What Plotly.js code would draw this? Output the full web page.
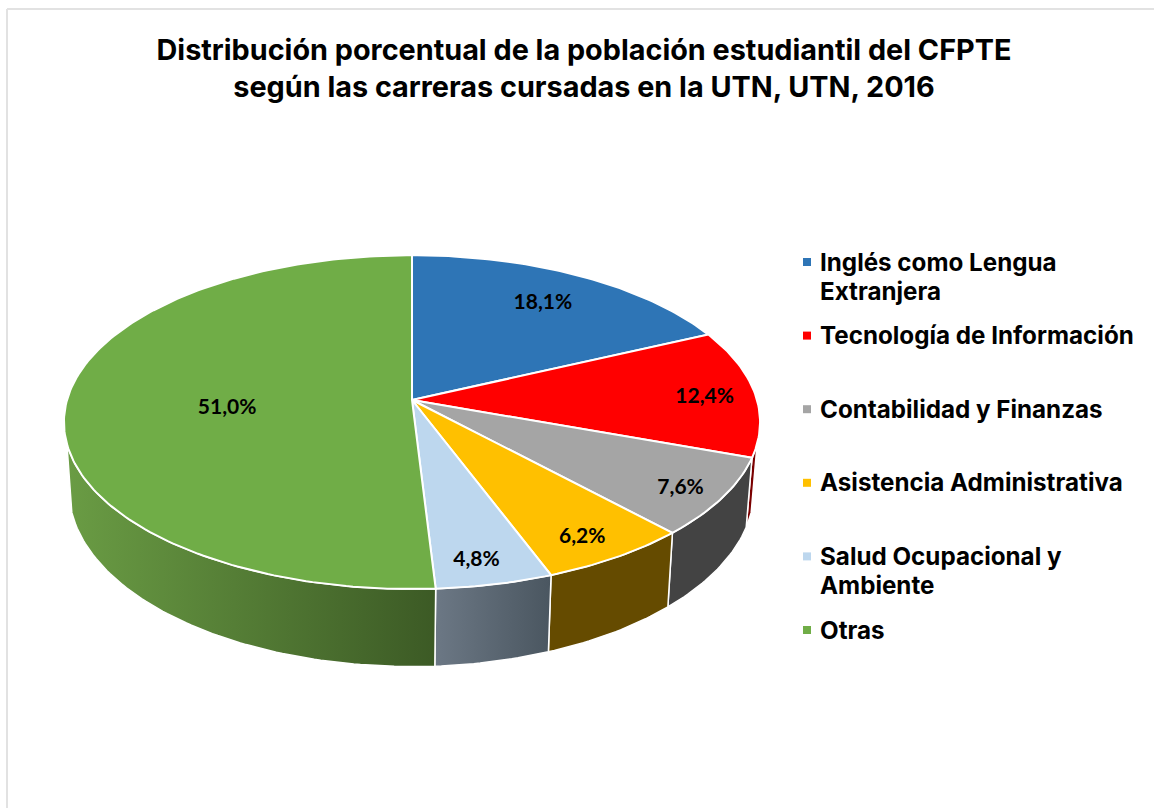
<!DOCTYPE html>
<html>
<head>
<meta charset="utf-8">
<script src="https://cdn.plot.ly/plotly-3.0.1.min.js"></script>
<style>html,body{margin:0;padding:0;background:#fff}#chart{width:1154px;height:808px}</style>
</head>
<body>
<div id="chart"></div>
<script>
// --- data ---
const categories = ['Inglés como Lengua<br>Extranjera', 'Tecnología de Información', 'Contabilidad y Finanzas', 'Asistencia Administrativa', 'Salud Ocupacional y<br>Ambiente', 'Otras'];
const percents = [18.1, 12.4, 7.6, 6.2, 4.8, 51.0];
const percentLabels = ['18,1%', '12,4%', '7,6%', '6,2%', '4,8%', '51,0%'];
const chartTitle = 'Distribución porcentual de la población estudiantil del CFPTE<br>según las carreras cursadas en la UTN, UTN, 2016';

// --- styles ---
const topColors = ['#2E75B6', '#FF0000', '#A5A5A5', '#FFC000', '#BDD7EE', '#70AD47'];
const sideColorsFrom = ['#1b4670', '#7a0000', '#434343', '#654b00', '#6c7885', '#6a9c44'];
const sideColorsTo = ['#1b4670', '#7a0000', '#434343', '#654b00', '#4a5660', '#3c5a25'];
const labelRadius = [0.78, 0.855, 0.88, 0.87, 0.875, 0.536];
const labelTurn = [-0.5, 0.4, 0.6, 1.0, 1.1, -2.2];

// --- perspective projection of the pie disc onto the page ---
const persp = 0.1325;
const topRim = {cx: 412, cy: 400, rx: 345, ry: 164};
const lowRim = {cx: 411.5, cy: 466, rx: 339.6, ry: 174};
const labelRim = {cx: 412, cy: 403, rx: 344, ry: 163};
const visibleFrom = 105, visibleTo = 255; // degrees clockwise from 12 o'clock where the wall can be seen

function project(rim, deg, r) {
  const t = deg * Math.PI / 180;
  const u = r * Math.sin(t), v = r * Math.cos(t);
  const w = 1 + persp * v;
  return [rim.cx + rim.rx * u / w, rim.cy - rim.ry * v / w];
}
function arc(rim, a, b) {
  const pts = [];
  const n = Math.max(2, Math.ceil(Math.abs(b - a)));
  for (let i = 0; i <= n; i++) pts.push(project(rim, a + (b - a) * i / n, 1));
  return pts;
}

// slice limits
const total = percents.reduce((s, p) => s + p, 0);
let acc = 0;
const spans = percents.map(p => { const a = acc; acc += p / total * 360; return [a, acc]; });

const traces = [];
// walls
spans.forEach((sp, i) => {
  const a = Math.max(sp[0], visibleFrom), b = Math.min(sp[1], visibleTo);
  if (b <= a) return;
  const pts = arc(topRim, a, b).concat(arc(lowRim, b, a));
  pts.push(pts[0]);
  traces.push({
    type: 'scatter', mode: 'lines', fill: 'toself', hoverinfo: 'skip', showlegend: false,
    x: pts.map(p => p[0]), y: pts.map(p => p[1]),
    line: {color: '#ffffff', width: 1.5},
    fillgradient: {type: 'horizontal', colorscale: [[0, sideColorsFrom[i]], [1, sideColorsTo[i]]]}
  });
});
// top face
spans.forEach((sp, i) => {
  const pts = [project(topRim, 0, 0)].concat(arc(topRim, sp[0], sp[1]));
  pts.push(pts[0]);
  traces.push({
    type: 'scatter', mode: 'lines', fill: 'toself', fillcolor: topColors[i], hoverinfo: 'skip', showlegend: false,
    x: pts.map(p => p[0]), y: pts.map(p => p[1]),
    line: {color: '#ffffff', width: 2}
  });
});
// percent labels
const labelPts = spans.map((sp, i) => project(labelRim, (sp[0] + sp[1]) / 2 + labelTurn[i], labelRadius[i]));
traces.push({
  type: 'scatter', mode: 'text', hoverinfo: 'skip', showlegend: false,
  x: labelPts.map(p => p[0]), y: labelPts.map(p => p[1]),
  text: percentLabels, textposition: 'middle center',
  textfont: {family: 'Lato, sans-serif', size: 21, color: '#000000', weight: 700}
});
// legend keys
const legendY0 = 262, legendStep = 73.6, legendLine = 29, legendKeyX = 807, legendTextX = 819;
const legendYs = categories.map((c, i) => legendY0 + i * legendStep);
traces.push({
  type: 'scatter', mode: 'markers', hoverinfo: 'skip', showlegend: false,
  x: categories.map(() => legendKeyX), y: legendYs,
  marker: {symbol: 'square', size: 8, color: topColors, line: {width: 0}}
});

const layout = {
  width: 1154, height: 808,
  margin: {l: 0, r: 0, t: 0, b: 0},
  paper_bgcolor: '#ffffff', plot_bgcolor: '#ffffff',
  showlegend: false,
  title: {
    text: chartTitle, x: 584 / 1154, xref: 'paper', xanchor: 'center',
    y: 1 - 60 / 808, yref: 'paper', yanchor: 'middle',
    font: {family: 'Inter, sans-serif', size: 28.8, color: '#000000', weight: 700}
  },
  xaxis: {range: [0, 1154], visible: false, fixedrange: true},
  yaxis: {range: [808, 0], visible: false, fixedrange: true},
  shapes: [
    {type: 'line', xref: 'x', yref: 'y', x0: 7, x1: 7, y0: 9, y1: 808, line: {color: '#e2e2e2', width: 2}},
    {type: 'line', xref: 'x', yref: 'y', x0: 7, x1: 1154, y0: 9, y1: 9, line: {color: '#e2e2e2', width: 2}}
  ],
  annotations: categories.flatMap((c, i) => c.split('<br>').map((line, j) => ({
    xref: 'x', yref: 'y', x: legendTextX, y: legendYs[i] + j * legendLine,
    xanchor: 'left', yanchor: 'middle', align: 'left', showarrow: false,
    borderpad: 0, text: line,
    font: {family: 'Inter, sans-serif', size: 24.2, color: '#000000', weight: 700}
  })))
};
Plotly.newPlot('chart', traces, layout, {displayModeBar: false, staticPlot: true});
</script>
</body>
</html>
